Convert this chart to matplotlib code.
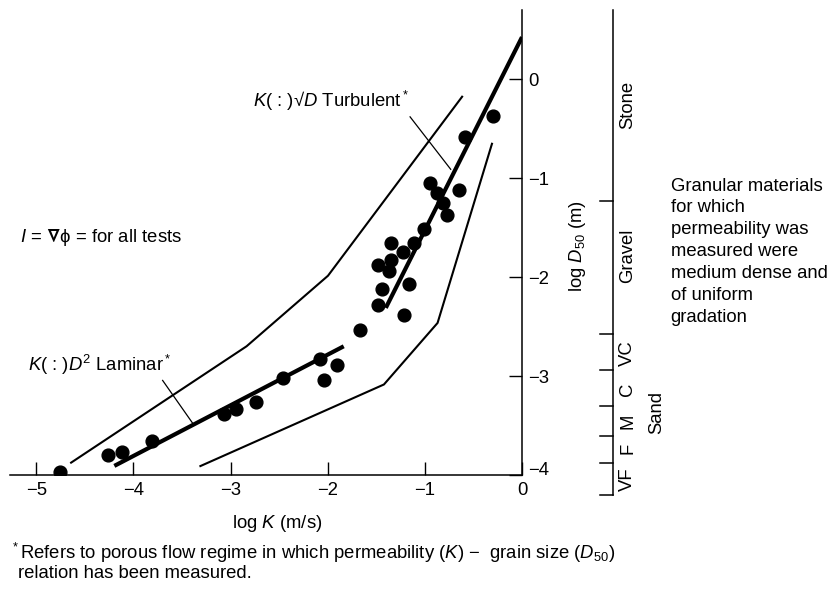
import matplotlib
matplotlib.use("Agg")
import matplotlib.pyplot as plt
from matplotlib.transforms import ScaledTranslation

plt.rcParams['font.family'] = ['Liberation Sans', 'DejaVu Sans']
plt.rcParams['mathtext.fontset'] = 'custom'
plt.rcParams['mathtext.rm'] = 'Liberation Sans'
plt.rcParams['mathtext.it'] = 'Liberation Sans:italic'
plt.rcParams['mathtext.bf'] = 'Liberation Sans:bold'
plt.rcParams['mathtext.fallback'] = 'stixsans'

# measured permeability (log K, m/s) against median grain size (log D50, m)
log_k = [-4.753, -4.257, -4.121, -3.809, -3.063, -2.945, -2.740, -2.460,
         -2.082, -1.909, -2.034, -1.667, -1.485, -1.443, -1.485, -1.365,
         -1.348, -1.348, -1.221, -1.108, -1.159, -1.214, -1.005, -0.947,
         -0.878, -0.810, -0.775, -0.645, -0.586, -0.300]
log_d50 = [-3.970, -3.800, -3.763, -3.656, -3.387, -3.330, -3.263, -3.017,
           -2.826, -2.893, -3.044, -2.530, -2.278, -2.117, -1.875, -1.935,
           -1.825, -1.650, -1.741, -1.650, -2.067, -2.386, -1.512, -1.051,
           -1.152, -1.253, -1.371, -1.119, -0.582, -0.373]

# regime fits
laminar_k = [-4.196, -1.835]
laminar_d = [-3.908, -2.699]
turbulent_k = [-1.402, 0.0]
turbulent_d = [-2.311, 0.426]

# envelope bounding the measurements
upper_k = [-4.650, -2.835, -1.997, -0.610]
upper_d = [-3.881, -2.699, -1.986, -0.168]
lower_k = [-3.320, -1.421, -0.869, -0.306]
lower_d = [-3.914, -3.085, -2.463, -0.642]

# leader lines from the regime labels to the fits
turb_leader_k = [-1.152, -0.734]
turb_leader_d = [-0.380, -0.910]
lam_leader_k = [-3.699, -3.394]
lam_leader_d = [-3.044, -3.471]

x_ticks = [-5, -4, -3, -2, -1, 0]
y_ticks = [-4, -3, -2, -1, 0]

# grain size classification scale (log D50 boundaries, top to bottom)
class_bounds = [0.70, -1.230, -2.578, -2.939, -3.302, -3.603, -3.882, -4.202]
class_names = ['Stone', 'Gravel', 'VC', 'C', 'M', 'F', 'VF']
class_label_d = [-0.260, -1.786, -2.767, -3.131, -3.454, -3.727, -4.040]

FS = 13.3

fig = plt.figure(figsize=(8.34, 5.92), dpi=100)
fig.patch.set_facecolor('white')
ax = fig.add_axes([10 / 834, 1 - 475 / 592, 512 / 834, 465 / 592])
ax.set_xlim(-5.27, 0)
ax.set_ylim(-4.0, 0.70)

for side in ('top', 'left'):
    ax.spines[side].set_visible(False)
for side in ('bottom', 'right'):
    ax.spines[side].set_linewidth(1.1)

ax.yaxis.tick_right()
ax.yaxis.set_label_position('right')
ax.set_xticks(x_ticks)
ax.set_yticks(y_ticks)
ax.tick_params(axis='both', direction='in', length=9.4, width=1.0,
               labelsize=FS, color='black')
ax.tick_params(axis='x', pad=5)
ax.tick_params(axis='y', pad=4.5)

ax.set_xlabel(r'log $K$ (m/s)', fontsize=FS)
ax.xaxis.set_label_coords((277 - 10) / 512, (475 - 523) / 465)
ax.xaxis.label.set_va('center')
ax.set_ylabel(r'log $D_{50}$ (m)', fontsize=FS, rotation=90)
ax.yaxis.set_label_coords((577 - 10) / 512, (475 - 246) / 465)
ax.yaxis.label.set_va('center')

# envelope
ax.plot(upper_k, upper_d, color='black', lw=1.5, solid_capstyle='butt')
ax.plot(lower_k, lower_d, color='black', lw=1.5, solid_capstyle='butt')

# fits
ax.plot(laminar_k, laminar_d, color='black', lw=3.0, solid_capstyle='butt')
ax.plot(turbulent_k, turbulent_d, color='black', lw=3.0, solid_capstyle='butt')

# leaders
ax.plot(turb_leader_k, turb_leader_d, color='black', lw=0.9)
ax.plot(lam_leader_k, lam_leader_d, color='black', lw=0.9)

# measurements
ax.plot(log_k, log_d50, 'o', color='black', ms=9.2, mec='black')

ax.text(-5.167, -1.604, r'$I$ = $\mathbf{\nabla}$ϕ = for all tests',
        ha='left', va='center', fontsize=FS)
ax.text(-5.085, -2.888, r'$K$( : )$D^2$ Laminar$^*$', ha='left', va='center',
        fontsize=FS)
ax.text(-2.772, -0.220, r'$K$( : )√$D$ Turbulent$^*$', ha='left', va='center',
        fontsize=FS)

# classification scale to the right of the plot
scale_x = 0.939
tick_x = 0.80
ax.plot([scale_x, scale_x], [class_bounds[-1], class_bounds[0]], color='black',
        lw=1.1, clip_on=False)
for b in class_bounds[1:]:
    ax.plot([tick_x, scale_x], [b, b], color='black', lw=1.1, clip_on=False)
for name, yd in zip(class_names, class_label_d):
    ax.text(1.09, yd, name, rotation=90, ha='center', va='center', fontsize=FS)
ax.text(1.386, -3.373, 'Sand', rotation=90, ha='center', va='center', fontsize=FS)

fig.text(670.7 / 834, 1 - 251.7 / 592,
         'Granular materials\nfor which\npermeability was\nmeasured were\n'
         'medium dense and\nof uniform\ngradation',
         ha='left', va='center', fontsize=FS, linespacing=1.375)

fig.text(10 / 834, 1 - 553 / 592,
         r'$^*$Refers to porous flow regime in which permeability ($K$) −  grain size ($D_{50}$)',
         ha='left', va='center', fontsize=FS)
fig.text(18 / 834, 1 - 573 / 592, 'relation has been measured.',
         ha='left', va='center', fontsize=FS)

# lift the lowest y tick label slightly off the x axis
fig.canvas.draw()
for lbl in ax.get_yticklabels():
    if lbl.get_position()[1] == -4:
        lbl.set_transform(lbl.get_transform()
                          + ScaledTranslation(0, 5 / 72, fig.dpi_scale_trans))

fig.savefig('out.png', dpi=100, facecolor='white')
